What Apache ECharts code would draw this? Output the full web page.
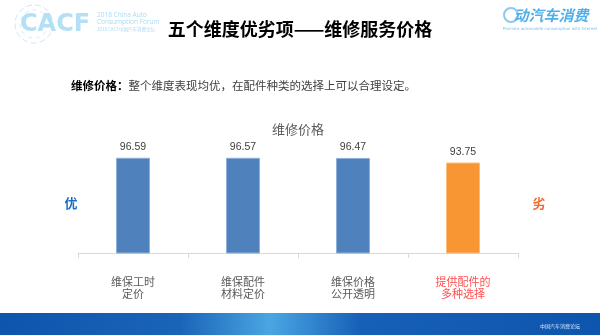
<!DOCTYPE html>
<html><head><meta charset="utf-8">
<script src="https://cdn.jsdelivr.net/npm/echarts@6/dist/echarts.min.js"></script>
<style>html,body{margin:0;padding:0;background:#fff}#c{width:600px;height:335px}</style>
</head><body><div id="c"></div>
<script>
const categories = ['维保工时\n定价', '维保配件\n材料定价', '维保价格\n公开透明', '提供配件的\n多种选择'];
const values = [96.59, 96.57, 96.47, 93.75];
const barColors = ['#4f81bd', '#4f81bd', '#4f81bd', '#f79633'];
const borderColors = ['#8fb0d8', '#8fb0d8', '#8fb0d8', '#fbbd7a'];
const labelColors = ['#595959', '#595959', '#595959', '#ff4f4f'];

const CJK = '"Noto Sans CJK SC", "Noto Sans", sans-serif';
const chart = echarts.init(document.getElementById('c'));
chart.setOption({
  animation: false,
  backgroundColor: '#ffffff',
  grid: {left: 78, right: 82, top: 152, bottom: 82},
  xAxis: {
    type: 'category', data: categories,
    axisLine: {lineStyle: {color: '#d9d9d9', width: 1}},
    axisTick: {show: true, length: 5, lineStyle: {color: '#d9d9d9'}},
    axisLabel: {margin: 23, fontSize: 11, lineHeight: 12, fontFamily: CJK,
      color: (v, i) => labelColors[i]}
  },
  yAxis: {type: 'value', min: 40, max: 100, show: false, splitLine: {show: false}},
  series: [{
    type: 'bar', barWidth: 34,
    data: values.map((v, i) => ({value: v, itemStyle: {color: barColors[i], borderColor: borderColors[i], borderWidth: 1}})),
    label: {show: true, position: 'top', distance: 5, fontSize: 10.5, color: '#404040', fontFamily: 'Arial, "Liberation Sans", sans-serif',
      formatter: p => p.value.toFixed(2)}
  }],
  graphic: [
    {type: 'text', left: 'center', top: 20, style: {text: '五个维度优劣项——维修服务价格', font: 'bold 18px ' + CJK, fill: '#000'}},
    {type: 'text', left: 71, top: 80, style: {text: '{b|维修价格：}{n|整个维度表现均优，在配件种类的选择上可以合理设定。}',
      rich: {b: {fontSize: 11.5, fontWeight: 'bold', fill: '#000', fontFamily: CJK}, n: {fontSize: 11.5, fill: '#404040', fontFamily: CJK}}}},
    {type: 'text', x: 298, y: 129, style: {text: '维修价格', font: '13px ' + CJK, fill: '#595959', align: 'center', verticalAlign: 'middle'}},
    {type: 'text', x: 71, y: 203, style: {text: '优', font: 'bold 13px ' + CJK, fill: '#1a6fc0', align: 'center', verticalAlign: 'middle'}},
    {type: 'text', x: 539, y: 203, style: {text: '劣', font: 'bold 13px ' + CJK, fill: '#f26a2e', align: 'center', verticalAlign: 'middle'}},
    // CACF logo
    {type: 'circle', shape: {cx: 34, cy: 24, r: 19}, style: {fill: 'none', stroke: '#cbe8f7', lineWidth: 1, lineDash: [6, 3]}},
    {type: 'circle', shape: {cx: 34, cy: 24, r: 14}, style: {fill: 'none', stroke: '#d7eef9', lineWidth: 1, lineDash: [4, 4]}},
    {type: 'text', x: 20, y: 25, style: {text: 'CACF', font: 'bold 24px "DejaVu Sans", sans-serif', fill: '#b4e0f6', verticalAlign: 'middle'}},
    {type: 'text', x: 97, y: 12, style: {text: '2018 China Auto\nConsumption Forum', font: '6.5px "Open Sans", sans-serif', lineHeight: 7, fill: '#a9dbf4'}},
    {type: 'text', x: 97, y: 27, style: {text: '2018 CACF中国汽车消费论坛', font: '4.5px ' + CJK, fill: '#a9dbf4'}},
    // right logo
    {type: 'circle', shape: {cx: 511, cy: 15, r: 7}, style: {fill: 'none', stroke: '#8cc9ef', lineWidth: 2}},
    {type: 'text', x: 551, y: 15, style: {text: '动汽车消费', font: 'italic bold 15px ' + CJK, fill: '#4fb0ea', align: 'center', verticalAlign: 'middle'}},
    {type: 'text', x: 550, y: 29, style: {text: 'Promote automobile consumption with Internet', font: '4px "DejaVu Sans", sans-serif', fill: '#7cc2ee', align: 'center', verticalAlign: 'middle'}},
    // bottom banner
    {type: 'rect', shape: {x: 0, y: 313, width: 600, height: 22}, style: {fill: new echarts.graphic.LinearGradient(0, 0, 1, 0, [
      {offset: 0, color: '#0e55ad'}, {offset: 0.3, color: '#1a64b8'}, {offset: 0.45, color: '#4aa6e2'}, {offset: 0.6, color: '#1760b8'}, {offset: 1, color: '#0e55ad'}])}},
    {type: 'text', x: 560, y: 326, style: {text: '中国汽车消费论坛', font: '5px ' + CJK, fill: '#cfe6fa', align: 'center', verticalAlign: 'middle'}}
  ]
});
</script></body></html>
